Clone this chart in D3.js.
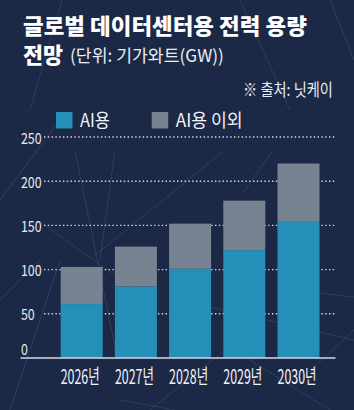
<!DOCTYPE html>
<html><head><meta charset="utf-8">
<script src="https://cdn.jsdelivr.net/npm/d3@7"></script>
<style>
html,body{margin:0;padding:0;background:#1c2946;}
svg{display:block;}
text{font-family:"Noto Sans CJK KR","Noto Sans",sans-serif;}
</style></head>
<body>
<svg id="chart" width="354" height="410"></svg>
<script>
const years = ["2026년","2027년","2028년","2029년","2030년"];
const aiValues = [61, 81, 101, 122, 155];
const otherValues = [42, 45, 51, 56, 65];
const seriesNames = ["AI용","AI용 이외"];
const yTicks = [0, 50, 100, 150, 200, 250];
const titleLine1 = "글로벌 데이터센터용 전력 용량";
const titleBold2 = "전망";
const titleUnit = "(단위: 기가와트(GW))";
const sourceText = "※ 출처: 닛케이";

const colors = ["#2490b8", "#788392"];
const svg = d3.select("#chart");
const W = 354, H = 410;

svg.append("rect").attr("width", W).attr("height", H).attr("fill", "#1c2946");

// faint decorative network lines (background texture)
const decor = [
  [[75,150],[117,357]], [[115,150],[100,260]], [[40,222],[150,300]],
  [[225,150],[93,257]], [[273,150],[243,193]], [[320,293],[354,297]],
  [[0,200],[60,120]], [[62,0],[30,110]], [[240,0],[290,110]],
  [[10,410],[60,260]], [[150,410],[250,330]], [[300,380],[354,330]],
  [[330,0],[354,60]], [[0,300],[40,260]], [[180,300],[354,340]],
  [[120,400],[175,410]], [[250,360],[330,410]]
];
svg.append("g").selectAll("line").data(decor).join("line")
  .attr("x1", d => d[0][0]).attr("y1", d => d[0][1])
  .attr("x2", d => d[1][0]).attr("y2", d => d[1][1])
  .attr("stroke", "#a9b8d4").attr("stroke-opacity", 0.16).attr("stroke-width", 0.9);

// place a text so that it spans a given width by horizontal scaling
function fitText(parent, str, x, yb, width, anchor, attrs) {
  const t = parent.append("text").text(str);
  Object.entries(attrs).forEach(([k, v]) => t.attr(k, v));
  const nat = t.node().getComputedTextLength();
  const sx = width / nat;
  const left = anchor === "end" ? x - width : anchor === "middle" ? x - width / 2 : x;
  t.attr("transform", `translate(${left},${yb}) scale(${sx},1)`);
  return t;
}

// Title
fitText(svg, titleLine1, 23, 33.5, 284, "start",
  {"font-size": 22, "font-weight": 900, "fill": "#ffffff"});
fitText(svg, titleBold2, 23, 62.5, 40, "start",
  {"font-size": 22, "font-weight": 900, "fill": "#ffffff"});
fitText(svg, titleUnit, 70, 61.5, 154, "start",
  {"font-size": 17.5, "font-weight": 400, "fill": "#e9edf3"});
fitText(svg, sourceText, 333, 96, 90, "end",
  {"font-size": 16.5, "fill": "#e9edf3"});

// Scales
const x = d3.scaleBand().domain(years).range([54.6, 325.6])
  .paddingInner(0.225).paddingOuter(0.1125);
const y = d3.scaleLinear().domain([0, 250]).range([358, 137]);

// Gridlines (dotted), excluding 0
svg.append("g").selectAll("line").data(yTicks.filter(v => v > 0)).join("line")
  .attr("x1", 44).attr("x2", 336)
  .attr("y1", d => y(d)).attr("y2", d => y(d))
  .attr("stroke", "#d6dce6").attr("stroke-width", 1.4)
  .attr("stroke-dasharray", "1.4,2.4");

// Y labels
svg.append("g").selectAll("text").data(yTicks).join("text")
  .attr("transform", d => `translate(21,${d === 0 ? y(d) - 3.5 : y(d) + 6.5}) scale(0.8,1)`)
  .attr("font-size", 15.5).attr("fill", "#e4e9f0")
  .text(d => d);

// Stacked bars
const table = years.map((yr, i) => ({year: yr, ai: aiValues[i], other: otherValues[i]}));
const stack = d3.stack().keys(["ai", "other"])(table);
svg.append("g").selectAll("g").data(stack).join("g")
  .attr("fill", (d, i) => colors[i])
  .selectAll("rect").data(d => d).join("rect")
  .attr("x", d => x(d.data.year)).attr("width", x.bandwidth())
  .attr("y", d => y(d[1])).attr("height", d => y(d[0]) - y(d[1]));

// Baseline
svg.append("line").attr("x1", 20.5).attr("x2", 335.5)
  .attr("y1", y(0)).attr("y2", y(0))
  .attr("stroke", "#d3dae4").attr("stroke-width", 1.6);

// X labels
const xg = svg.append("g");
years.forEach(d => {
  fitText(xg, d, x(d) + x.bandwidth() / 2 - 1.5, 383.5, 39, "middle",
    {"font-size": 20, "fill": "#f2f4f8"});
});

// Legend
const legendX = [56, 151.7];
const legendW = [30, 67];
const lg = svg.append("g");
seriesNames.forEach((d, i) => {
  lg.append("rect").attr("x", legendX[i]).attr("y", 112)
    .attr("width", 16.5).attr("height", 16.5).attr("fill", colors[i]);
  fitText(lg, d, legendX[i] + 24, 127, legendW[i], "start",
    {"font-size": 18, "fill": "#f2f4f8"});
});
</script>
</body></html>
